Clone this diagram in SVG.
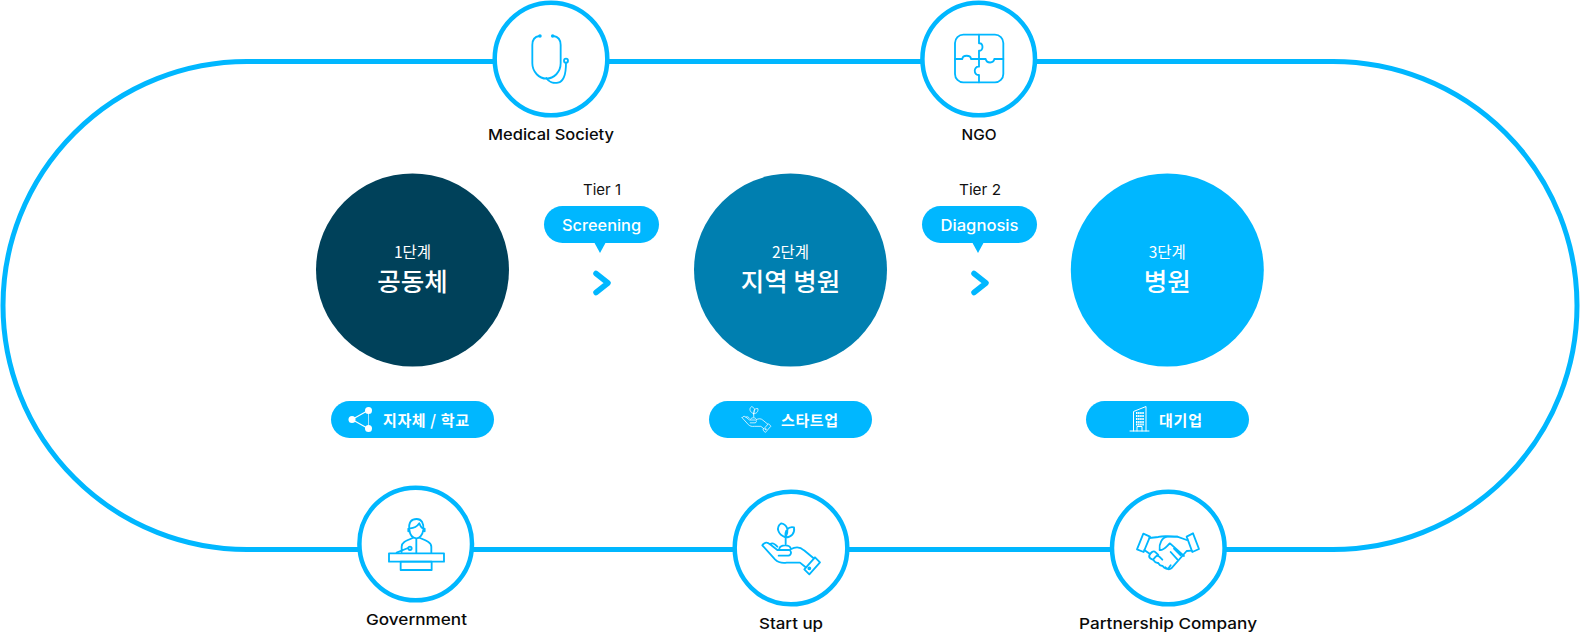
<svg xmlns="http://www.w3.org/2000/svg" width="1580" height="635" viewBox="0 0 1580 635">
<style>
text{font-family:"Inter","Noto Sans CJK KR","Noto Sans",sans-serif;text-anchor:middle}
.lab{font-size:15px;font-weight:500;fill:#0a0a0a}
.tier{font-size:15px;font-weight:400;fill:#111}
.bub{font-size:15.5px;font-weight:500;fill:#fff}
.st{font-size:15.5px;font-weight:400;fill:#fff;font-family:"Noto Sans CJK KR",sans-serif}
.nm{font-size:25.5px;font-weight:500;fill:#fff;font-family:"Noto Sans CJK KR",sans-serif}
.pt{font-size:15px;font-weight:700;fill:#fff;font-family:"Noto Sans CJK KR",sans-serif}
.ring{fill:#fff;stroke:#00b7ff;stroke-width:4.5}
.ic{fill:none;stroke:#00b7ff;stroke-width:5.5;stroke-linecap:round;stroke-linejoin:round}
.pill{fill:#00b7ff}
.wic{fill:none;stroke:#fff;stroke-linecap:round;stroke-linejoin:round}
.chev{fill:none;stroke:#00b7ff;stroke-width:5.5;stroke-linecap:round;stroke-linejoin:round}
</style>
<defs>
<g id="plant">
<path d="M196 172C174 164 166 142 184 130C202 134 208 152 196 172ZM197 172C194 152 204 138 222 142C225 160 214 172 197 172ZM197 172V192M178 205C182 194 208 192 212 205"/>
<path d="M127 196C134 186 142 185 150 193L172 210H208C216 214 214 226 205 227H176M127 196L165 238C174 247 186 250 200 248H240L257 262M150 193C158 186 165 192 172 200M212 208C226 200 240 200 252 211L281 235"/>
<path d="M253 268L285 232L300 247L268 283Z"/>
<circle cx="268" cy="265" r="3"/>
</g>
</defs>
<g id="connectors">
<rect x="3" y="61.500" width="1574" height="488" rx="244" ry="244" fill="none" stroke="#00b7ff" stroke-width="5"/>
</g>
<g id="node-medical">
<circle class="ring" cx="551" cy="59" r="56.300"/>
<g class="ic" transform="translate(480 0) scale(.3333)">
<path d="M178 108C162 110 157 120 157 135V190C157 216 178 236 199 236C222 236 242 216 242 190V135C242 120 235 110 220 108"/>
<path d="M199 234C206 245 220 251 234 248C250 245 258 225 258 189"/>
<circle cx="258" cy="182" r="6"/>
<circle cx="180" cy="108" r="2.500"/><circle cx="218" cy="108" r="2.500"/>
</g>
<text class="lab" x="551" y="140" textLength="126" lengthAdjust="spacingAndGlyphs">Medical Society</text>
</g>
<g id="node-ngo">
<circle class="ring" cx="978.700" cy="59" r="56.300"/>
<g class="ic" transform="translate(905 0) scale(.3333)">
<rect x="150" y="104" width="145" height="143" rx="25"/>
<path d="M222 104V130C236 127 236 155 222 152V200C205 198 205 227 222 225V247M150 177H172C173 164 197 164 198 177H242C245 191 266 191 268 177H295"/>
</g>
<text class="lab" x="979" y="140" textLength="35" lengthAdjust="spacingAndGlyphs">NGO</text>
</g>
<g id="node-government">
<circle class="ring" cx="415.700" cy="544" r="56.300"/>
<g class="ic" transform="translate(340 480) scale(.3333)">
<path d="M208 150C205 125 215 117 230 117C245 117 252 130 250 150C248 165 238 175 229 175C218 175 210 165 208 150ZM210 145C225 145 234 136 238 130C242 140 245 145 250 145M205 146V154M254 146V154"/>
<path d="M185 216V200C185 188 195 183 218 174M240 174C262 183 274 188 274 200V218M229 178V218M170 218L204 204"/>
<circle cx="210" cy="205" r="5"/>
<rect x="147" y="220" width="165" height="25"/>
<rect x="182" y="245" width="93" height="25"/>
</g>
<text class="lab" x="416.500" y="625" textLength="101" lengthAdjust="spacingAndGlyphs">Government</text>
</g>
<g id="node-startup">
<circle class="ring" cx="791" cy="548" r="56.300"/>
<use href="#plant" class="ic" transform="translate(720 480) scale(.3333)"/>
<text class="lab" x="791" y="629" textLength="64" lengthAdjust="spacingAndGlyphs">Start up</text>
</g>
<g id="node-partnership">
<circle class="ring" cx="1168.300" cy="548" r="56.300"/>
<g class="ic" transform="translate(1090 480) scale(.3333)">
<path d="M141 208L160 161L180 170L161 216ZM290 170L309 160L327 207L307 216Z"/>
<path d="M178 174L205 171C222 166 240 170 262 170L290 180M305 212L290 213L244 265C238 270 230 268 226 262M163 210L180 222"/>
<path d="M262 170H232C216 172 206 192 209 210C222 212 230 198 240 190L282 228M262 238L242 216M272 226L252 206"/>
<path d="M180 222C176 228 177 232 181 235L190 240C194 246 198 250 205 249C208 256 212 258 218 258C223 266 230 268 236 264L242 256M180 222L186 216C190 213 194 214 197 217L205 225M190 238L197 230C201 226 205 227 208 230L217 239"/>
</g>
<text class="lab" x="1168" y="629" textLength="178" lengthAdjust="spacingAndGlyphs">Partnership Company</text>
</g>
<g id="node-stage1">
<circle cx="412.500" cy="270" r="96.500" fill="#00415a"/>
<text class="st" x="412.500" y="258">1단계</text>
<text class="nm" x="412.500" y="291">공동체</text>
</g>
<g id="node-stage2">
<circle cx="790.500" cy="270" r="96.500" fill="#007fb0"/>
<text class="st" x="790.500" y="258">2단계</text>
<text class="nm" x="790.500" y="291">지역 병원</text>
</g>
<g id="node-stage3">
<circle cx="1167.300" cy="270" r="96.500" fill="#00b7ff"/>
<text class="st" x="1167.300" y="258">3단계</text>
<text class="nm" x="1167.300" y="291">병원</text>
</g>
<g id="tier1">
<text class="tier" x="602" y="195" textLength="38" lengthAdjust="spacingAndGlyphs">Tier 1</text>
<rect class="pill" x="544" y="206" width="115" height="37" rx="18.500"/>
<path class="pill" d="M594 242H606L600 253Z"/>
<text class="bub" x="601.500" y="230.500" textLength="79" lengthAdjust="spacingAndGlyphs">Screening</text>
<path class="chev" d="M596 273.500L608 283L596 292.500"/>
</g>
<g id="tier2">
<text class="tier" x="980" y="195" textLength="42" lengthAdjust="spacingAndGlyphs">Tier 2</text>
<rect class="pill" x="922" y="206" width="115" height="37" rx="18.500"/>
<path class="pill" d="M972 242H984L978 253Z"/>
<text class="bub" x="979.500" y="230.500" textLength="78" lengthAdjust="spacingAndGlyphs">Diagnosis</text>
<path class="chev" d="M974 273.500L986 283L974 292.500"/>
</g>
<g id="pill-local">
<rect class="pill" x="331" y="401" width="163" height="37" rx="18.500"/>
<path d="M352 419.500L368 410.500M352 419.500L368 428.500" fill="none" stroke="#fff" stroke-width="1.200"/>
<path d="M368.500 411V428" fill="none" stroke="#a8e4ff" stroke-width="1"/>
<circle cx="352" cy="419.500" r="3.500" fill="#fff"/><circle cx="368.500" cy="410.500" r="3.500" fill="#fff"/><circle cx="368.500" cy="428.500" r="3.500" fill="#fff"/>
<text class="pt" x="426" y="426" textLength="86" lengthAdjust="spacing">지자체 / 학교</text>
</g>
<g id="pill-startup">
<rect class="pill" x="709" y="401" width="163" height="37" rx="18.500"/>
<use href="#plant" class="wic" stroke-width="4.500" transform="translate(720.900 385) scale(.1667)"/>
<text class="pt" x="809.500" y="426" textLength="57" lengthAdjust="spacing">스타트업</text>
</g>
<g id="pill-corp">
<rect class="pill" x="1086" y="401" width="163" height="37" rx="18.500"/>
<path class="wic" stroke-width="1" d="M1130 431H1149M1133.500 431V411.500L1146 406.500V431M1137 431V426.500H1142V431"/>
<path d="M1136 413H1144M1136 416H1144M1136 419H1144M1136 422H1144M1136 424.500H1144" fill="none" stroke="#fff" stroke-width="1.800" stroke-dasharray="1.500 .6"/>
<text class="pt" x="1180.500" y="426" textLength="43" lengthAdjust="spacing">대기업</text>
</g>
</svg>
